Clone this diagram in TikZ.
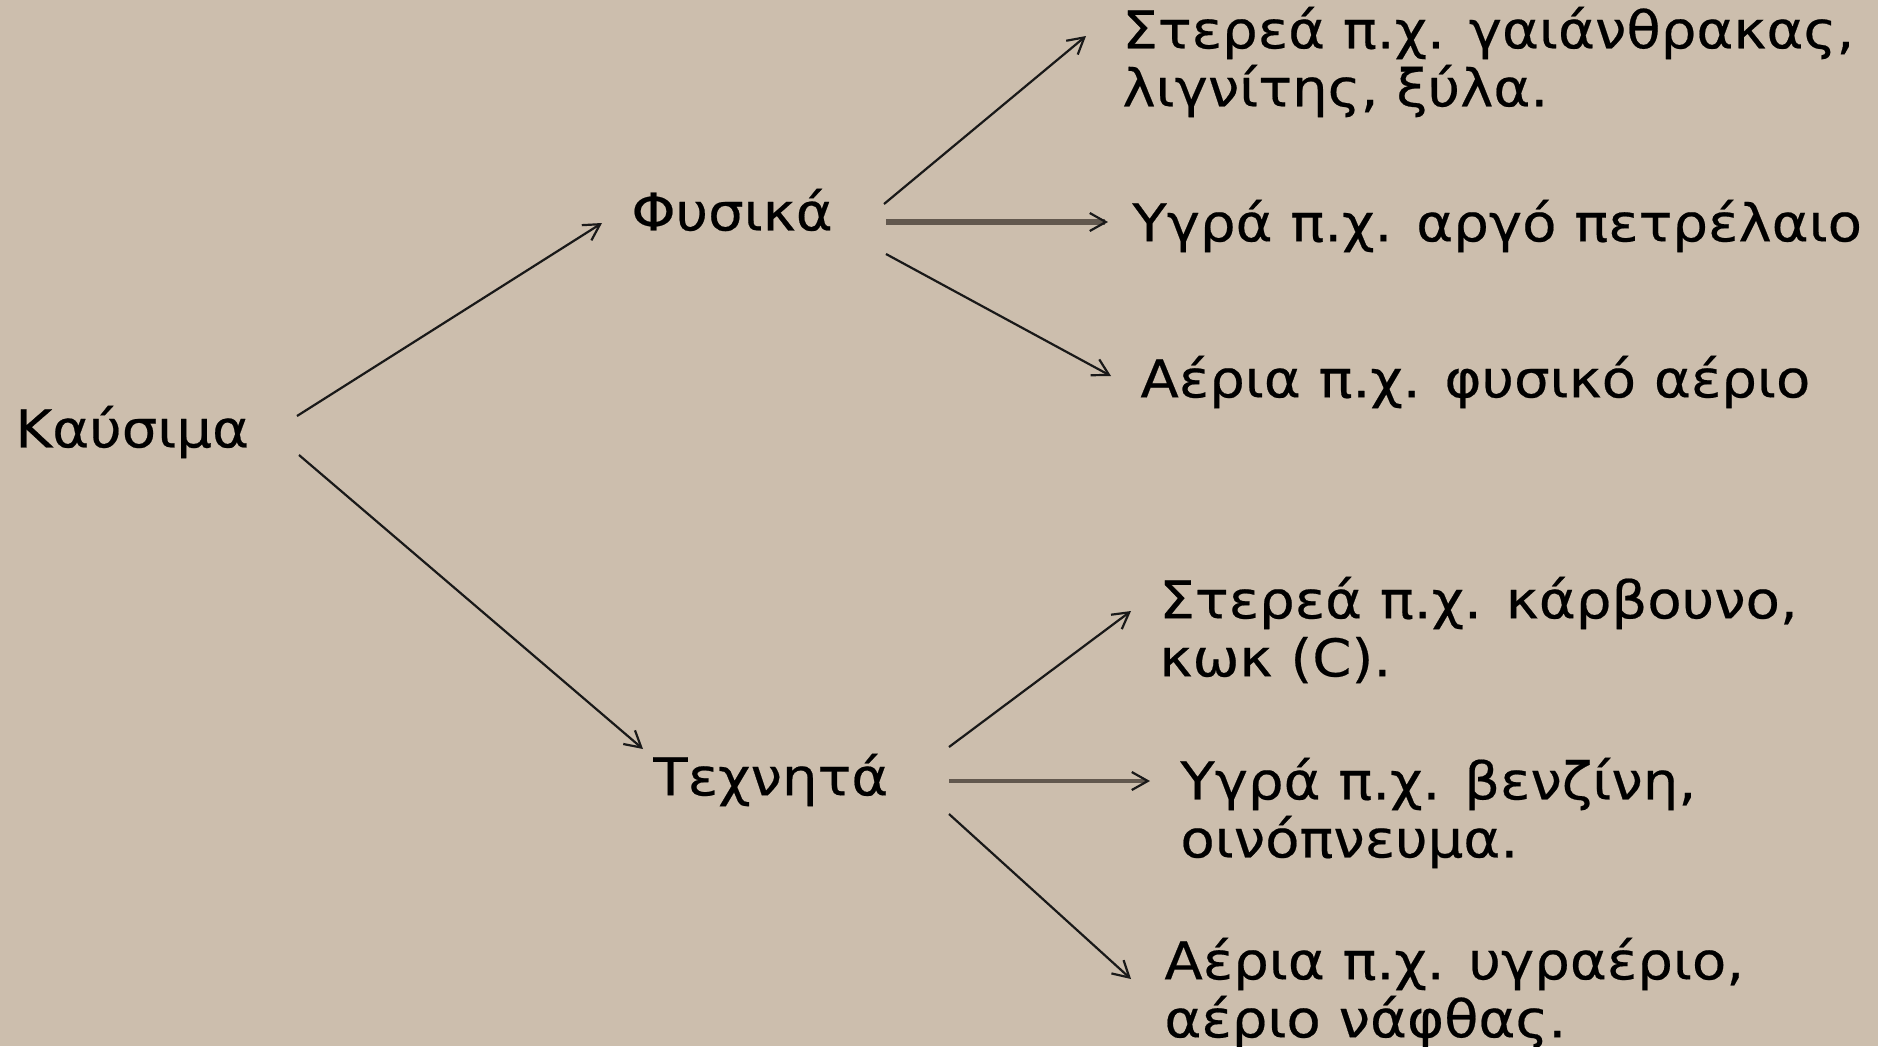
\documentclass[tikz,border=0pt]{standalone}
\usepackage{fontspec}
\setmainfont[FakeStretch=1.08,FakeBold=0.4]{DejaVu Sans}
\usetikzlibrary{arrows.meta}
\definecolor{bg}{RGB}{204,190,173}
\definecolor{greyarrow}{RGB}{98,88,78}
\begin{document}
\begin{tikzpicture}[x=0.5pt,y=-0.5pt,
  txt/.style={anchor=west,inner sep=0pt,align=left,font=\fontsize{26}{29}\selectfont},
  arr/.style={draw=black!90,line width=1.1pt,-{Straight Barb[length=8pt,width=9pt,line width=1.1pt]}},
  garr/.style={draw=greyarrow,line width=#1,-{Straight Barb[length=8pt,width=9pt,line width=1.1pt,color=black!90]}}]
\fill[bg] (0,0) rectangle (1878,1046);
\useasboundingbox (0,0) rectangle (1878,1046);
\node[txt] (kaus) at (15,432) {Καύσιμα};
\node[txt] (fys) at (631,210) {Φυσικά};
\node[txt] (tex) at (653,780) {Τεχνητά};
\node[txt] (a1) at (1122,62) {Στερεά π.χ. γαιάνθρακας,\\λιγνίτης, ξύλα.};
\node[txt] (a2) at (1132,226) {Υγρά π.χ. αργό πετρέλαιο};
\node[txt] (a3) at (1140,382) {Αέρια π.χ. φυσικό αέριο};
\node[txt] (b1) at (1159,630) {Στερεά π.χ. κάρβουνο,\\κωκ (C).};
\node[txt] (b2) at (1180,813) {Υγρά π.χ. βενζίνη,\\οινόπνευμα.};
\node[txt] (b3) at (1164,993) {Αέρια π.χ. υγραέριο,\\αέριο νάφθας.};
\draw[arr] ([shift={(282,-16)}]kaus.west) -- ([shift={(-29,13)}]fys.west);
\draw[arr] ([shift={(284,23)}]kaus.west) -- ([shift={(-10,-31)}]tex.west);
\draw[arr] ([shift={(253,-6)}]fys.west) -- ([shift={(-36,-26)}]a1.west);
\draw[garr=3pt] ([shift={(255,12)}]fys.west) -- ([shift={(-24,-4)}]a2.west);
\draw[arr] ([shift={(255,44)}]fys.west) -- ([shift={(-29,-6)}]a3.west);
\draw[arr] ([shift={(296,-33)}]tex.west) -- ([shift={(-28,-19)}]b1.west);
\draw[garr=1.8pt] ([shift={(296,1)}]tex.west) -- ([shift={(-30,-32)}]b2.west);
\draw[arr] ([shift={(296,34)}]tex.west) -- ([shift={(-33,-14)}]b3.west);
\end{tikzpicture}
\end{document}
